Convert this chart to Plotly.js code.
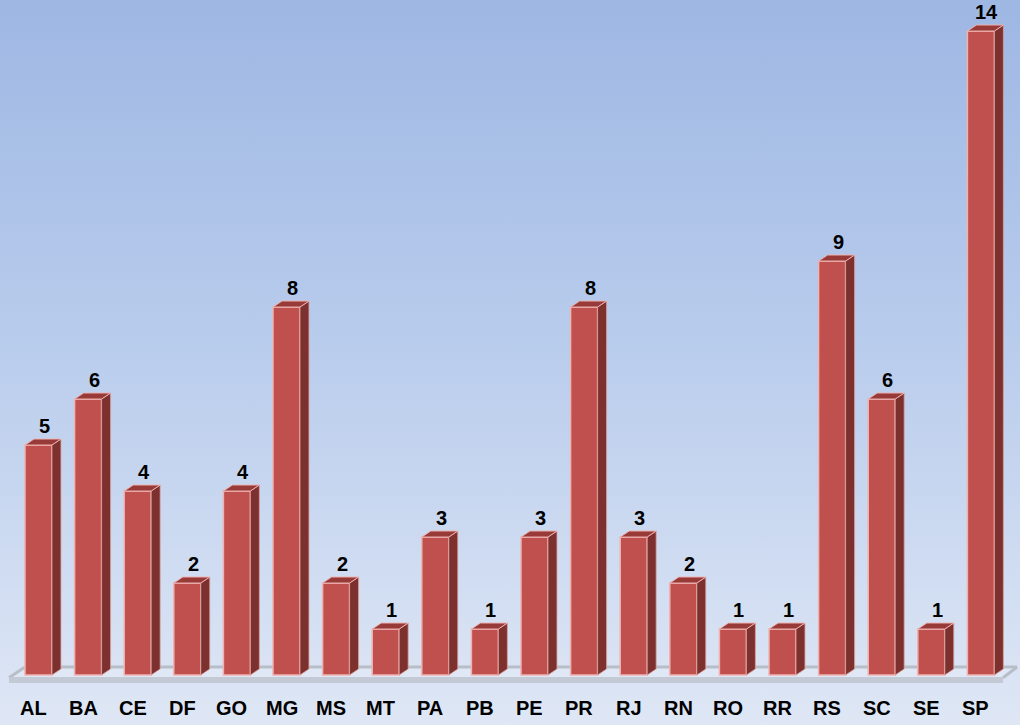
<!DOCTYPE html>
<html>
<head>
<meta charset="utf-8">
<script src="https://cdn.plot.ly/plotly-3.0.1.min.js"></script>
<style>
html,body{margin:0;padding:0;}
#chart{width:1020px;height:725px;background:linear-gradient(to bottom,#9eb7e3 0%,#b7cbec 45%,#dfe7f5 100%);}
</style>
</head>
<body>
<div id="chart"></div>
<script>
const categories = ['AL','BA','CE','DF','GO','MG','MS','MT','PA','PB','PE','PR','RJ','RN','RO','RR','RS','SC','SE','SP'];
const values = [5,6,4,2,4,8,2,1,3,1,3,8,3,2,1,1,9,6,1,14];

const idx = categories.map((c,i)=>i);
const W = 0.544;   // front width (category units)
const DX = 0.181;  // depth x
const DY = 0.13;   // depth y

const sideX=[], sideY=[], topX=[], topY=[];
idx.forEach(i=>{
  const v = values[i];
  const xl = i - W/2, xr = i + W/2;
  sideX.push(xr, xr+DX, xr+DX, xr, xr, null);
  sideY.push(0, DY, v+DY, v, 0, null);
  topX.push(xl, xl+DX, xr+DX, xr, xl, null);
  topY.push(v, v+DY, v+DY, v, v, null);
});

const traces = [
  {type:'bar', x:idx, y:values, width:W,
   marker:{color:'#c0504d', line:{color:'#efb3b1', width:1.5}},
   hoverinfo:'skip'},
  {type:'scatter', mode:'lines', x:sideX, y:sideY, fill:'toself', connectgaps:false,
   fillcolor:'#7d312f', line:{color:'rgba(220,160,158,0.8)', width:1}, hoverinfo:'skip'},
  {type:'scatter', mode:'lines', x:topX, y:topY, fill:'toself', connectgaps:false,
   fillcolor:'#973a38', line:{color:'rgba(238,180,178,0.95)', width:1}, hoverinfo:'skip'}
];

const annotations = [];
idx.forEach(i=>{
  annotations.push({x:i+0.12, y:values[i], xref:'x', yref:'y', yanchor:'bottom', yshift:6,
    text:'<b>'+values[i]+'</b>', showarrow:false,
    font:{family:'Liberation Sans, Arial, sans-serif', size:20, color:'#000'}});
  annotations.push({x:i-0.1, y:-0.717, xref:'x', yref:'y', yanchor:'middle',
    text:'<b>'+categories[i]+'</b>', showarrow:false,
    font:{family:'Liberation Sans, Arial, sans-serif', size:20, color:'#000'}});
});

const floorGray = '#b8bec8';
const bandGray = '#c4cad5';
const shapes = [
  // floor plane
  {type:'path', xref:'x', yref:'y', layer:'below',
   path:'M -0.595 -0.043 L -0.272 0.174 L 19.728 0.174 L 19.446 -0.043 Z',
   fillcolor:'rgba(235,240,250,0.35)', line:{width:0}},
  // back line
  {type:'line', xref:'x', yref:'y', layer:'below', x0:-0.272, x1:19.728, y0:0.174, y1:0.174,
   line:{color:floorGray, width:3}},
  // left diagonal
  {type:'line', xref:'x', yref:'y', layer:'below', x0:-0.595, x1:-0.272, y0:-0.06, y1:0.174,
   line:{color:floorGray, width:3}},
  // right diagonal
  {type:'line', xref:'x', yref:'y', layer:'below', x0:19.446, x1:19.728, y0:-0.06, y1:0.174,
   line:{color:floorGray, width:3}},
  // front band
  {type:'rect', xref:'x', yref:'y', layer:'below', x0:-0.595, x1:19.446, y0:-0.174, y1:-0.043,
   fillcolor:bandGray, line:{width:0}}
];

const layout = {
  width:1020, height:725,
  margin:{l:0,r:0,t:0,b:0},
  paper_bgcolor:'rgba(0,0,0,0)', plot_bgcolor:'rgba(0,0,0,0)',
  showlegend:false,
  xaxis:{range:[-0.776,19.788], showgrid:false, zeroline:false, showticklabels:false, showline:false, fixedrange:true},
  yaxis:{range:[-1.087,14.674], showgrid:false, zeroline:false, showticklabels:false, showline:false, fixedrange:true},
  annotations:annotations,
  shapes:shapes
};

Plotly.newPlot('chart', traces, layout, {displayModeBar:false, staticPlot:true});
</script>
</body>
</html>
